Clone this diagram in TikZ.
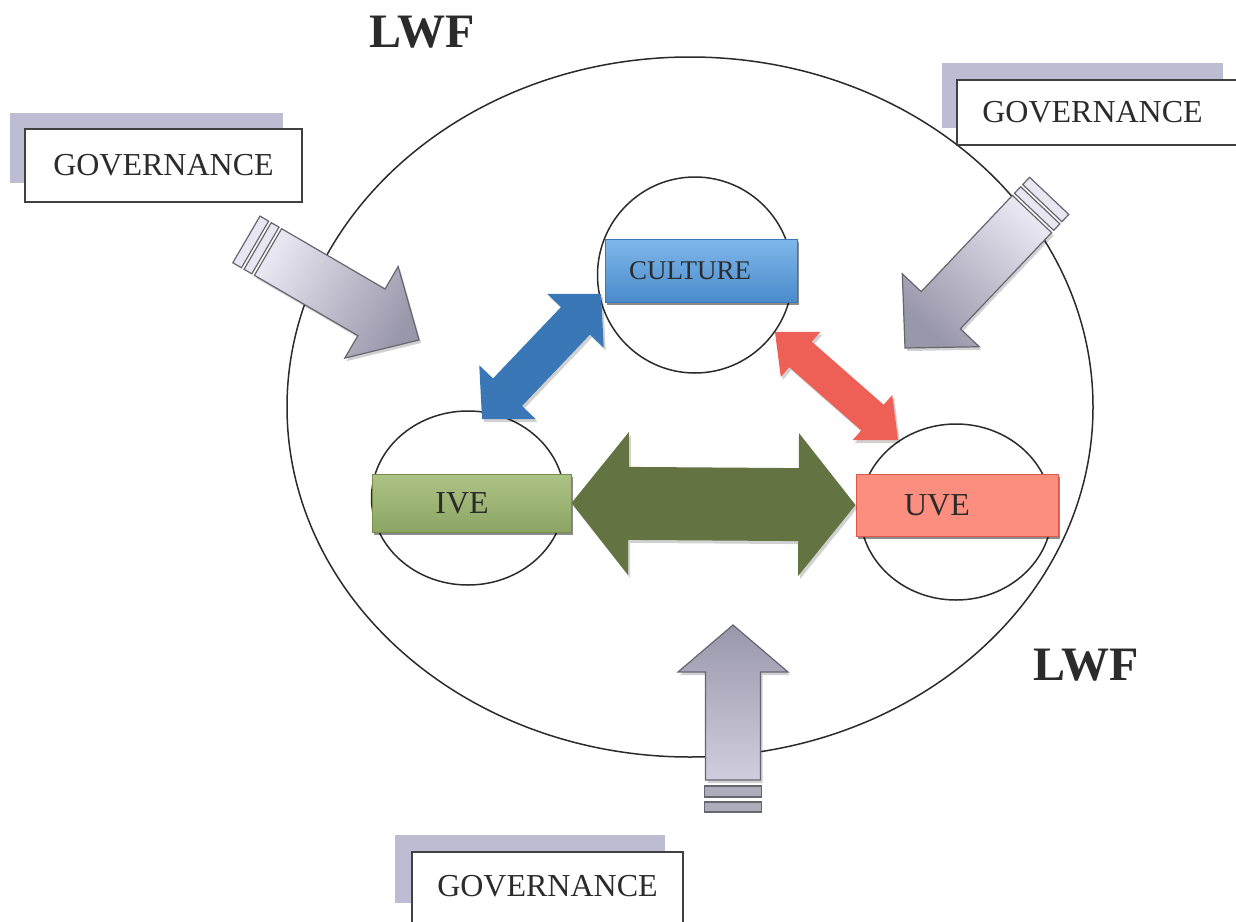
\documentclass[tikz,border=0pt]{standalone}
\usepackage{fontspec}
\setmainfont{Liberation Serif}
\usetikzlibrary{calc,shapes.geometric,shadows}

\definecolor{ink}{HTML}{2B2B2B}
\definecolor{lavshade}{HTML}{BDBCD3}
\definecolor{govlight}{HTML}{E8E6F1}
\definecolor{govmid}{HTML}{D0CEDE}
\definecolor{govdark}{HTML}{9997AA}
\definecolor{govline}{HTML}{66666F}
\definecolor{cultop}{HTML}{7FB7EA}
\definecolor{culbot}{HTML}{4A8BCB}
\definecolor{culline}{HTML}{3C78B6}
\definecolor{ivetop}{HTML}{ADC386}
\definecolor{ivebot}{HTML}{8CA563}
\definecolor{iveline}{HTML}{768D4E}
\definecolor{uvetop}{HTML}{FB8E7F}
\definecolor{uvemid}{HTML}{F46A5B}
\definecolor{uveline}{HTML}{E0584A}
\definecolor{bluearr}{HTML}{3A77B6}
\definecolor{bluearrlt}{HTML}{5592CE}
\definecolor{redarr}{HTML}{EE5F55}
\definecolor{redarrlt}{HTML}{F68A80}
\definecolor{greenarr}{HTML}{637341}
\definecolor{greenarrlt}{HTML}{9AAB72}

% single block arrow: options, tail, tip, shaft half width, head half width, head length
\newcommand{\singlearrow}[6]{%
  \path[#1] ($(#2)!#4!90:(#3)$)
    -- ($(#3)!#6!(#2)!#4!-90:(#2)$)
    -- ($(#3)!#6!(#2)!#5!-90:(#2)$)
    -- (#3)
    -- ($(#3)!#6!(#2)!#5!90:(#2)$)
    -- ($(#3)!#6!(#2)!#4!90:(#2)$)
    -- ($(#2)!#4!-90:(#3)$) -- cycle;}

% double block arrow: options, end A, end B, shaft half width, head half width, head length
\newcommand{\doublearrow}[6]{%
  \path[#1] (#2)
    -- ($(#2)!#6!(#3)!#5!90:(#3)$)
    -- ($(#2)!#6!(#3)!#4!90:(#3)$)
    -- ($(#3)!#6!(#2)!#4!-90:(#2)$)
    -- ($(#3)!#6!(#2)!#5!-90:(#2)$)
    -- (#3)
    -- ($(#3)!#6!(#2)!#5!90:(#2)$)
    -- ($(#3)!#6!(#2)!#4!90:(#2)$)
    -- ($(#2)!#6!(#3)!#4!-90:(#3)$)
    -- ($(#2)!#6!(#3)!#5!-90:(#3)$)
    -- cycle;}

% band behind an arrow tail: options, tail, tip, near offset, far offset, half width
\newcommand{\tailband}[6]{%
  \path[#1] ($(#2)!#4!(#3)!#6!90:(#3)$) -- ($(#2)!#5!(#3)!#6!90:(#3)$)
    -- ($(#2)!#5!(#3)!#6!-90:(#3)$) -- ($(#2)!#4!(#3)!#6!-90:(#3)$) -- cycle;}

\begin{document}
\begin{tikzpicture}[x=1pt,y=-1pt,
  ring/.style={draw=ink, line width=1.5pt, ellipse, inner sep=0pt},
  govbox/.style={draw=ink!90, line width=1.5pt, fill=white, inner sep=0pt,
    font=\fontsize{32}{36}\selectfont, text=ink},
  govshadow/.style={fill=lavshade, inner sep=0pt},
  lwf/.style={font=\bfseries\fontsize{48}{54}\selectfont, text=ink, inner sep=0pt},
  factor/.style={inner sep=0pt, line width=1pt, text=ink,
    drop shadow={shadow xshift=2pt, shadow yshift=-3pt, opacity=.45, fill=black}},
  govarrow/.style={draw=govline, line width=1.2pt, line join=miter},
  govband/.style={draw=govline, line width=1.2pt, fill=govmid},
  arrshadow/.style={fill=black, opacity=.18, transform canvas={shift={(2pt,-3pt)}}},
]
\useasboundingbox (0,0) rectangle (1236,921);
\fill[white] (0,0) rectangle (1236,921);

% outer ring and the three inner rings
\node[ring, minimum width=806pt, minimum height=700pt] (lwfring) at (690,407) {};
\node[ring, minimum width=195pt, minimum height=196pt] (cring) at (695,275) {};
\node[ring, minimum width=193pt, minimum height=174pt] (iring) at (468,498) {};
\node[ring, minimum width=192pt, minimum height=176pt] (uring) at (956,512) {};

% LWF labels
\node[lwf] (lwftop) at (422,32) {LWF};
\node[lwf] (lwfbot) at (1086,665) {LWF};

% the three factor boxes
\node[factor, draw=culline, top color=cultop, bottom color=culbot,
  minimum width=192pt, minimum height=63pt, font=\fontsize{27}{30}\selectfont]
  (culture) at (701,270.5) {CULTURE\hspace*{22pt}};
\node[factor, draw=iveline, top color=ivetop, bottom color=ivebot,
  minimum width=199pt, minimum height=58pt, font=\fontsize{32}{36}\selectfont]
  (ive) at (471.5,503) {IVE\hspace*{19pt}};
\node[factor, draw=uveline, top color=uvetop, middle color=uvemid, bottom color=uvetop,
  minimum width=202pt, minimum height=62pt, font=\fontsize{32}{36}\selectfont]
  (uve) at (957,505) {UVE\hspace*{40pt}};

% governance boxes with their offset shadows
\node[govshadow, minimum width=273pt, minimum height=70pt] (gs1) at (146.5,148) {};
\node[govbox, minimum width=277pt, minimum height=73pt] (gov1) at (163.5,165.5) {GOVERNANCE};
\node[govshadow, minimum width=281pt, minimum height=65pt] (gs2) at (1082.5,95.5) {};
\node[govbox, minimum width=293pt, minimum height=65pt] (gov2) at (1103.5,112.5) {GOVERNANCE\hspace*{22pt}};
\node[govshadow, minimum width=270pt, minimum height=68pt] (gs3) at (530,869) {};
\node[govbox, minimum width=271pt, minimum height=73pt] (gov3) at (547.5,888.5) {\raisebox{5pt}{GOVERNANCE}};

% arrow end points
\coordinate (gl-tail) at (268,252);  \coordinate (gl-tip) at (419,340);
\coordinate (gr-tail) at (1032,214); \coordinate (gr-tip) at (905,348);
\coordinate (gb-tail) at (733,780);  \coordinate (gb-tip) at (733,625);
\coordinate (blue-a) at (482,419);   \coordinate (blue-b) at (601,294);
\coordinate (red-a) at (775,332);    \coordinate (red-b) at (898,440);

% governance arrows pointing into the ring
\singlearrow{arrshadow}{gl-tail}{gl-tip}{27pt}{53pt}{55pt}
\singlearrow{govarrow, top color=govlight, bottom color=govdark, shading angle=60}{gl-tail}{gl-tip}{27pt}{53pt}{55pt}
\tailband{govband, fill=govlight}{gl-tail}{gl-tip}{-3pt}{-12pt}{27pt}
\tailband{govband, fill=govlight}{gl-tail}{gl-tip}{-15pt}{-25pt}{27pt}

\singlearrow{arrshadow}{gr-tail}{gr-tip}{27pt}{53pt}{52pt}
\singlearrow{govarrow, top color=govlight, bottom color=govdark, shading angle=-43}{gr-tail}{gr-tip}{27pt}{53pt}{52pt}
\tailband{govband, fill=govlight}{gr-tail}{gr-tip}{-3pt}{-12pt}{27pt}
\tailband{govband, fill=govlight}{gr-tail}{gr-tip}{-15pt}{-25pt}{27pt}

\singlearrow{arrshadow}{gb-tail}{gb-tip}{27.5pt}{55pt}{47pt}
\singlearrow{govarrow, top color=govdark, middle color=govlight, bottom color=govmid}{gb-tail}{gb-tip}{27.5pt}{55pt}{47pt}
\tailband{govband, fill=govdark!80}{gb-tail}{gb-tip}{-6pt}{-17pt}{28.5pt}
\tailband{govband, fill=govdark!80}{gb-tail}{gb-tip}{-22pt}{-32pt}{28.5pt}

% links between the factors
\doublearrow{arrshadow}{blue-a}{blue-b}{20pt}{39pt}{37pt}
\doublearrow{top color=bluearr, middle color=bluearrlt, bottom color=bluearr, shading angle=45}{blue-a}{blue-b}{20pt}{39pt}{37pt}
\doublearrow{arrshadow}{red-a}{red-b}{17pt}{30pt}{34pt}
\doublearrow{top color=redarr, middle color=redarrlt, bottom color=redarr, shading angle=-42}{red-a}{red-b}{17pt}{30pt}{34pt}
\doublearrow{arrshadow}{ive.east}{uve.west}{36.5pt}{71.5pt}{57pt}
\doublearrow{top color=greenarr, middle color=greenarrlt, bottom color=greenarr}{ive.east}{uve.west}{36.5pt}{71.5pt}{57pt}
\end{tikzpicture}
\end{document}
